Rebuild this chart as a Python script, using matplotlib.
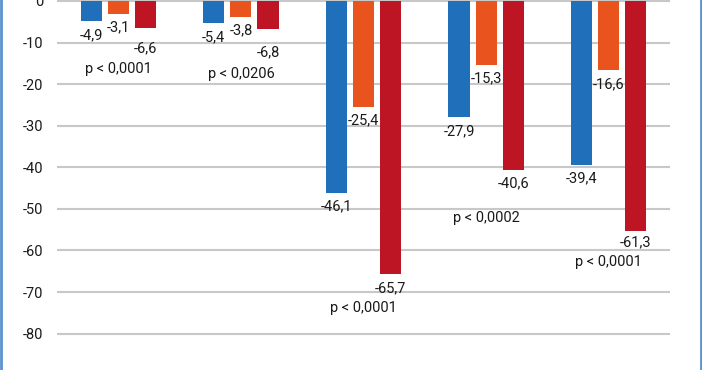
import matplotlib

matplotlib.use("Agg")
import matplotlib.pyplot as plt
import numpy as np
from matplotlib.lines import Line2D

# bar lengths as drawn in the reference (three series per group)
SERIES_A = [-4.9, -5.4, -46.1, -27.9, -39.4]
SERIES_B = [-3.1, -3.8, -25.4, -15.3, -16.6]
SERIES_C = [-6.6, -6.8, -65.7, -40.6, -55.3]
# printed value labels (the last red bar is drawn shorter than its label)
LABELS_A = ["-4,9", "-5,4", "-46,1", "-27,9", "-39,4"]
LABELS_B = ["-3,1", "-3,8", "-25,4", "-15,3", "-16,6"]
LABELS_C = ["-6,6", "-6,8", "-65,7", "-40,6", "-61,3"]
P_LABELS = ["p < 0,0001", "p < 0,0206", "p < 0,0001", "p < 0,0002", "p < 0,0001"]
Y_TICKS = [0, -10, -20, -30, -40, -50, -60, -70, -80]

# layout helpers (not data)
P_LABEL_Y = [-16.3, -17.5, -73.9, -52.2, -62.9]
EXTRA_DROP_C = [6, 9, 0, 0, -2]  # px extra drop for red labels

COLORS = ["#1f6fba", "#e9531d", "#be1525"]
BAR_W = 0.172
OFFSET = 0.221
FIG_W, FIG_H, DPI = 7.02, 3.70, 100
FS = 10.5

plt.rcParams["font.family"] = ["Roboto", "DejaVu Sans"]

fig = plt.figure(figsize=(FIG_W, FIG_H), dpi=DPI)
ax = fig.add_axes([57 / 702, 0, 613 / 702, 1])

x = np.arange(len(SERIES_A))
groups = zip([SERIES_A, SERIES_B, SERIES_C], [LABELS_A, LABELS_B, LABELS_C], COLORS)
for i, (vals, labs, col) in enumerate(groups):
    xs = x + (i - 1) * OFFSET
    ax.bar(xs, vals, width=BAR_W, color=col, zorder=3)
    for j, (xx, v, lab) in enumerate(zip(xs, vals, labs)):
        drop = 10 + (EXTRA_DROP_C[j] * 0.72 if i == 2 else 0)
        ax.annotate(
            lab,
            (xx, v),
            xytext=(0, -drop),
            textcoords="offset points",
            ha="center",
            va="center",
            fontsize=FS,
            color="#1a1a1a",
            zorder=4,
        )

for xx, yy, txt in zip(x, P_LABEL_Y, P_LABELS):
    ax.text(xx, yy, txt, ha="center", va="center", fontsize=FS, color="#1a1a1a")

ax.set_xlim(-0.5, len(SERIES_A) - 0.5)
ax.set_ylim(-88.76, 0.24)
ax.set_yticks(Y_TICKS)
ax.set_yticklabels([str(t) for t in Y_TICKS])
ax.set_xticks([])
ax.tick_params(axis="y", length=0, pad=10, labelsize=FS, labelcolor="#1a1a1a")
ax.yaxis.grid(True, color="#c8c8c8", linewidth=1.5, zorder=0)
ax.set_axisbelow(True)
for s in ax.spines.values():
    s.set_visible(False)

# thin blue frame on the left and right edges
for xf in (0.0015, 0.9985):
    fig.add_artist(Line2D([xf, xf], [0, 1], color="#5b92cf", linewidth=2,
                          transform=fig.transFigure))

fig.savefig("out.png", dpi=DPI)
